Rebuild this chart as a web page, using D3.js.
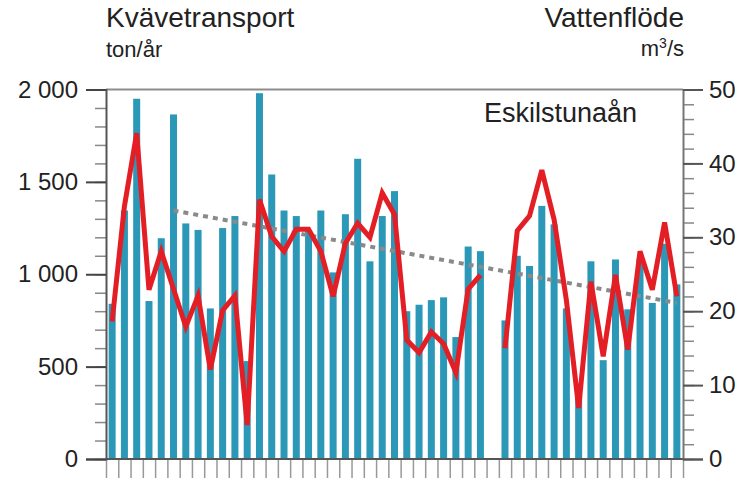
<!DOCTYPE html>
<html>
<head>
<meta charset="utf-8">
<script src="https://cdn.jsdelivr.net/npm/d3@7"></script>
<style>
  body { margin: 0; background: #fff; }
  text { font-family: "Liberation Sans", Arial, sans-serif; fill: #222; }
</style>
</head>
<body>
<div id="chart"></div>
<script>
// data
var years = d3.range(1967, 2014);
var kvave = [840, 1345, 1950, 855, 1195, 1865, 1275, 1240, 815, 1250,
             1315, 530, 1980, 1540, 1345, 1315, 1240, 1345, 1010, 1325,
             1625, 1070, 1315, 1450, 800, 835, 860, 875, 660, 1150,
             1125, null, 750, 1100, 1045, 1370, 1270, 815, 350, 1070,
             535, 1080, 810, 1085, 845, 1165, 945];
var flode = [18.6, 34.2, 44.1, 22.9, 28.1, 23.0, 17.9, 22.1, 12.1, 20.1,
             22.1, 4.6, 35.1, 30.1, 28.1, 31.1, 31.1, 28.1, 22.0, 29.2,
             31.9, 30.0, 36.0, 33.1, 16.1, 14.4, 17.2, 15.6, 11.7, 23.0,
             24.9, null, 15.0, 30.9, 32.9, 39.1, 32.4, 21.5, 6.9, 24.0,
             13.9, 24.9, 14.8, 28.1, 22.9, 32.0, 22.0];
var trendYears = [1972, 2013];
var trendValues = [1345, 845];
var leftTicks = [0, 500, 1000, 1500, 2000];
var rightTicks = [0, 10, 20, 30, 40, 50];

var W = 748, H = 481;
var margin = { top: 89.5, right: 65, bottom: 22, left: 106 },
    width = 683 - margin.left,
    height = 459 - margin.top;

var svg = d3.select("#chart").append("svg")
    .attr("width", W)
    .attr("height", H);

var g = svg.append("g")
    .attr("transform", "translate(" + margin.left + "," + margin.top + ")");

var x = d3.scaleBand().domain(years).range([0, width])
    .paddingInner(0.43).paddingOuter(0.215);
var xi = d3.scaleLinear().domain([0, years.length]).range([0, width]);
var yL = d3.scaleLinear().domain([0, 2000]).range([height, 0]);
var yR = d3.scaleLinear().domain([0, 50]).range([height, 0]);

var fmt = function (d) { return d3.format(",")(d).replace(",", " "); };

// top border
g.append("line")
    .attr("x1", 0).attr("x2", width)
    .attr("y1", 0).attr("y2", 0)
    .style("stroke", "#8c8c8c").style("stroke-width", 2);

// bars
g.selectAll(".bar")
    .data(years.map(function (y, i) { return { year: y, v: kvave[i] }; })
        .filter(function (d) { return d.v != null; }))
    .enter().append("rect")
    .attr("class", "bar")
    .attr("x", function (d) { return x(d.year); })
    .attr("width", x.bandwidth())
    .attr("y", function (d) { return yL(d.v); })
    .attr("height", function (d) { return height - yL(d.v); })
    .style("fill", "#2b98b8");

// trend
var trendLine = d3.line()
    .x(function (d) { return x(d[0]) + x.bandwidth() / 2; })
    .y(function (d) { return yL(d[1]); });
g.append("path")
    .datum(trendYears.map(function (y, i) { return [y, trendValues[i]]; }))
    .attr("d", trendLine)
    .style("fill", "none")
    .style("stroke", "#8a8a8a")
    .style("stroke-width", 4)
    .style("stroke-dasharray", "5,5");

// flow line
var line = d3.line()
    .defined(function (d) { return d.v != null; })
    .x(function (d) { return x(d.year) + x.bandwidth() / 2; })
    .y(function (d) { return yR(d.v); });
g.append("path")
    .datum(years.map(function (y, i) { return { year: y, v: flode[i] }; }))
    .attr("d", line)
    .style("fill", "none")
    .style("stroke", "#e41e25")
    .style("stroke-width", 5)
    .style("stroke-linejoin", "miter");

// x axis ticks
var xAxis = g.append("g")
    .attr("transform", "translate(0," + height + ")")
    .call(d3.axisBottom(xi).tickValues(d3.range(0, years.length + 1))
        .tickSize(19).tickFormat(""));
xAxis.select(".domain").remove();
xAxis.selectAll(".tick line").style("stroke", "#999").style("stroke-width", 1.5);
g.append("line")
    .attr("x1", 0).attr("x2", width)
    .attr("y1", height).attr("y2", height)
    .style("stroke", "#555").style("stroke-width", 2);

// left axis
var lMinor = g.append("g")
    .call(d3.axisLeft(yL).tickValues(d3.range(0, 2001, 100)).tickSize(11).tickFormat(""));
lMinor.select(".domain").remove();
lMinor.selectAll(".tick line").style("stroke", "#888").style("stroke-width", 1.5);

var lAxis = g.append("g")
    .call(d3.axisLeft(yL).tickValues(leftTicks).tickSize(20).tickPadding(8).tickFormat(fmt));
lAxis.select(".domain").style("stroke", "#555").style("stroke-width", 2);
lAxis.selectAll(".tick line").style("stroke", "#444").style("stroke-width", 2);
lAxis.selectAll("text").style("font-size", "24px").style("fill", "#222")
    .style("font-family", "Liberation Sans, Arial, sans-serif");

// right axis
var rMinor = g.append("g")
    .attr("transform", "translate(" + width + ",0)")
    .call(d3.axisRight(yR).tickValues(d3.range(0, 51, 2)).tickSize(11).tickFormat(""));
rMinor.select(".domain").remove();
rMinor.selectAll(".tick line").style("stroke", "#888").style("stroke-width", 1.5);

var rAxis = g.append("g")
    .attr("transform", "translate(" + width + ",0)")
    .call(d3.axisRight(yR).tickValues(rightTicks).tickSize(20).tickPadding(6));
rAxis.select(".domain").style("stroke", "#777").style("stroke-width", 2);
rAxis.selectAll(".tick line").style("stroke", "#555").style("stroke-width", 2);
rAxis.selectAll("text").style("font-size", "24px").style("fill", "#222")
    .style("font-family", "Liberation Sans, Arial, sans-serif");

// titles
svg.append("text").attr("x", 106).attr("y", 27)
    .style("font-size", "28px").text("Kvävetransport");
svg.append("text").attr("x", 106).attr("y", 57)
    .style("font-size", "22px").text("ton/år");
svg.append("text").attr("x", 684).attr("y", 27)
    .attr("text-anchor", "end")
    .style("font-size", "28px").text("Vattenflöde");
var unit = svg.append("text").attr("x", 684).attr("y", 56)
    .attr("text-anchor", "end")
    .style("font-size", "22px");
unit.append("tspan").text("m");
unit.append("tspan").attr("dy", -8).style("font-size", "14px").text("3");
unit.append("tspan").attr("dy", 8).text("/s");
svg.append("text").attr("x", 484).attr("y", 122)
    .style("font-size", "27px").text("Eskilstunaån");
</script>
</body>
</html>
